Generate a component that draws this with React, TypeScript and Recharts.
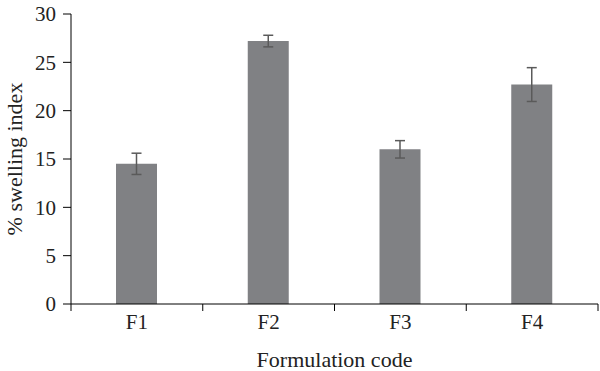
import React from 'react';
import { BarChart, Bar, XAxis, YAxis, ErrorBar } from 'recharts';

const categories = ['F1', 'F2', 'F3', 'F4'];
const swelling = [14.5, 27.2, 16.0, 22.7];
const errors = [1.1, 0.6, 0.9, 1.75];
const yTicks = [0, 5, 10, 15, 20, 25, 30];

const data = categories.map((c, i) => ({ name: c, value: swelling[i], err: errors[i] }));

const FONT = 'Liberation Serif, Times New Roman, DejaVu Serif, serif';

const XTick = (props: any) => {
  const { x, y, payload, index, visibleTicksCount, width } = props;
  const half = payload && payload.offset ? payload.offset : width / visibleTicksCount / 2;
  const axisY = y;
  return (
    <g>
      <line x1={x - half} y1={axisY} x2={x - half} y2={axisY + 7} stroke="#000" strokeWidth={1} />
      {index === visibleTicksCount - 1 && (
        <line x1={x + half} y1={axisY} x2={x + half} y2={axisY + 7} stroke="#000" strokeWidth={1} />
      )}
      <text x={x} y={axisY + 25} textAnchor="middle" style={{ fontFamily: FONT, fontSize: 21 }} fill="#222">
        {payload.value}
      </text>
    </g>
  );
};

export default function App() {
  return (
    <div style={{ position: 'absolute', left: 0, top: 0, background: '#fff', fontFamily: FONT }}>
      <BarChart
        width={600}
        height={371}
        data={data}
        margin={{ top: 14, right: 2, bottom: 0, left: 0 }}
        barCategoryGap={0}
        style={{ fontFamily: FONT }}
      >
        <XAxis
          dataKey="name"
          height={67}
          tickLine={false}
          axisLine={{ stroke: '#000', strokeWidth: 1 }}
          tick={<XTick />}
          tickMargin={0}
          tickSize={0}
          interval={0}
          label={{
            value: 'Formulation code',
            position: 'insideBottom',
            offset: 4,
            style: { fontFamily: FONT, fontSize: 22 },
            fill: '#222',
          }}
        />
        <YAxis
          domain={[0, 30]}
          ticks={yTicks}
          width={71}
          tickSize={8}
          tickMargin={7}
          axisLine={{ stroke: '#000', strokeWidth: 1 }}
          tickLine={{ stroke: '#000', strokeWidth: 1 }}
          tick={{ style: { fontFamily: FONT, fontSize: 21 }, fill: '#222' }}
          label={{
            value: '% swelling index',
            angle: -90,
            position: 'center',
            dx: -21,
            style: { fontFamily: FONT, fontSize: 22 },
            fill: '#222',
          }}
        />
        <Bar dataKey="value" fill="#808184" barSize={41} isAnimationActive={false}>
          <ErrorBar dataKey="err" width={5} stroke="#5a5a5a" strokeWidth={1.5} direction="y" />
        </Bar>
      </BarChart>
    </div>
  );
}
